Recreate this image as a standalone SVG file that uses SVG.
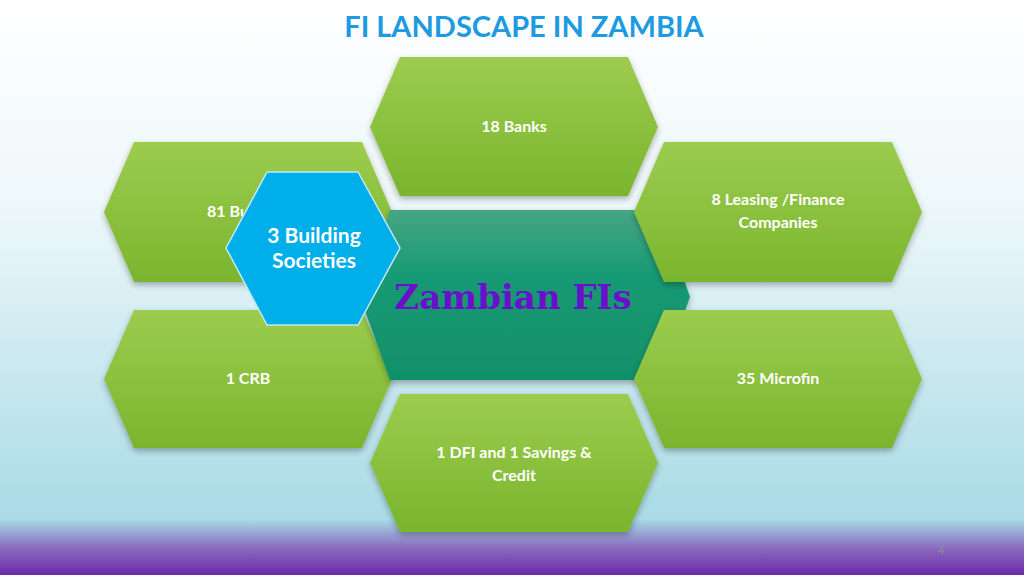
<svg xmlns="http://www.w3.org/2000/svg" width="1024" height="575" viewBox="0 0 1024 575">
<defs>
<linearGradient id="bg" x1="0" y1="0" x2="0" y2="1">
<stop offset="0" stop-color="#ffffff"/><stop offset="0.35" stop-color="#eef8fa"/><stop offset="0.9" stop-color="#a9dbe6"/><stop offset="1" stop-color="#a6d9e6"/>
</linearGradient>
<linearGradient id="band" x1="0" y1="0" x2="0" y2="1">
<stop offset="0" stop-color="#a6d9e6"/><stop offset="0.5" stop-color="#8a6cc0"/><stop offset="1" stop-color="#6e2aa8"/>
</linearGradient>
<linearGradient id="gr" x1="0" y1="0" x2="0" y2="1">
<stop offset="0" stop-color="#9ccc4e"/><stop offset="1" stop-color="#7ab52e"/>
</linearGradient>
<linearGradient id="tl" x1="0" y1="0" x2="0" y2="1">
<stop offset="0" stop-color="#46a582"/><stop offset="0.4" stop-color="#159a74"/><stop offset="1" stop-color="#119068"/>
</linearGradient>
<filter id="sh" x="-10%" y="-10%" width="120%" height="130%"><feDropShadow dx="0" dy="3" stdDeviation="3" flood-opacity="0.3"/></filter>
</defs>
<style>
.g{fill:url(#gr);filter:url(#sh)}
.t{font-family:Lato,"Open Sans","Liberation Sans",sans-serif;font-weight:bold;font-size:16px;fill:#fff;text-anchor:middle}
.b{font-size:21px}
</style>
<rect width="1024" height="575" fill="url(#bg)"/>
<rect y="520" width="1024" height="55" fill="url(#band)"/>
<text x="524" y="37" font-family="Lato,'Open Sans','Liberation Sans',sans-serif" font-weight="bold" font-size="29" fill="#1e9be0" text-anchor="middle">FI LANDSCAPE IN ZAMBIA</text>
<g id="banks"><polygon class="g" points="400,57 628,57 658,127 628,196 400,196 370,127"/><text class="t" x="514" y="132">18 Banks</text></g>
<g id="bureau"><polygon class="g" points="134,142 362,142 392,212 362,282 134,282 104,212"/><text class="t" x="228" y="217">81 Bu</text></g>
<g id="crb"><polygon class="g" points="134,310 362,310 392,379 362,448 134,448 104,379"/><text class="t" x="248" y="384">1 CRB</text></g>
<g id="dfi"><polygon class="g" points="400,394 628,394 658,463 628,532 400,532 370,463"/><text class="t" x="514" y="458">1 DFI and 1 Savings &amp;</text><text class="t" x="514" y="481">Credit</text></g>
<g id="center"><polygon fill="url(#tl)" filter="url(#sh)" points="390,210 660,210 690,297 660,380 390,380 360,297"/><text x="513" y="309" font-family="'DejaVu Serif','Liberation Serif',serif" font-weight="bold" font-size="34" fill="#6a0fcc" text-anchor="middle">Zambian FIs</text></g>
<g id="leasing"><polygon class="g" points="664,142 892,142 922,212 892,282 664,282 634,212"/><text class="t" x="778" y="205">8 Leasing /Finance</text><text class="t" x="778" y="228">Companies</text></g>
<g id="microfin"><polygon class="g" points="664,310 892,310 922,379 892,448 664,448 634,379"/><text class="t" x="778" y="384">35 Microfin</text></g>
<g id="building"><polygon fill="#00aeea" stroke="#bfe8f6" stroke-width="1.5" points="267,172 358,172 400,248 358,325 267,325 226,248"/><text class="t b" x="314" y="243">3 Building</text><text class="t b" x="314" y="268">Societies</text></g>
<text x="941" y="554" font-family="'Liberation Sans',sans-serif" font-size="12" fill="#8a8a9a" text-anchor="middle">4</text>
</svg>
